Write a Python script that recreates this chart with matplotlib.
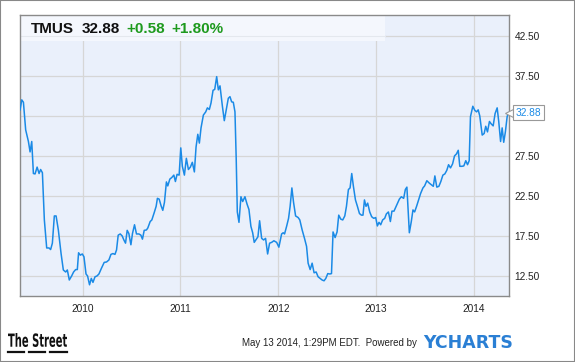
import matplotlib
matplotlib.use("Agg")
import matplotlib.pyplot as plt
import matplotlib.transforms as mtransforms
from matplotlib.patches import Rectangle, PathPatch
from matplotlib.textpath import TextPath
from matplotlib.font_manager import FontProperties

# decimal years
years = [
    2009.361, 2009.378, 2009.395, 2009.418, 2009.446, 2009.463, 2009.480, 2009.497,
    2009.514, 2009.535, 2009.555, 2009.571, 2009.589, 2009.609, 2009.633, 2009.657,
    2009.673, 2009.691, 2009.711, 2009.729, 2009.752, 2009.780, 2009.803, 2009.827,
    2009.844, 2009.864, 2009.888, 2009.908, 2009.929, 2009.946, 2009.959, 2009.977,
    2009.997, 2010.014, 2010.035, 2010.051, 2010.071, 2010.089, 2010.106, 2010.127,
    2010.147, 2010.167, 2010.194, 2010.221, 2010.245, 2010.269, 2010.290, 2010.310,
    2010.331, 2010.347, 2010.364, 2010.385, 2010.405, 2010.422, 2010.439, 2010.456,
    2010.473, 2010.494, 2010.510, 2010.531, 2010.551, 2010.576, 2010.596, 2010.612,
    2010.630, 2010.653, 2010.667, 2010.691, 2010.708, 2010.732, 2010.752, 2010.765,
    2010.783, 2010.803, 2010.820, 2010.837, 2010.857, 2010.871, 2010.892, 2010.912,
    2010.933, 2010.949, 2010.966, 2010.987, 2011.004, 2011.020, 2011.041, 2011.061,
    2011.082, 2011.102, 2011.122, 2011.143, 2011.160, 2011.178, 2011.194, 2011.211,
    2011.235, 2011.259, 2011.276, 2011.296, 2011.313, 2011.334, 2011.351, 2011.371,
    2011.388, 2011.405, 2011.429, 2011.449, 2011.469, 2011.490, 2011.507, 2011.524,
    2011.541, 2011.558, 2011.571, 2011.582, 2011.599, 2011.619, 2011.637, 2011.660,
    2011.681, 2011.701, 2011.721, 2011.739, 2011.755, 2011.776, 2011.793, 2011.810,
    2011.831, 2011.851, 2011.871, 2011.892, 2011.912, 2011.933, 2011.956, 2011.984,
    2012.007, 2012.035, 2012.051, 2012.065, 2012.086, 2012.106, 2012.122, 2012.140,
    2012.157, 2012.178, 2012.204, 2012.221, 2012.245, 2012.269, 2012.290, 2012.306,
    2012.327, 2012.347, 2012.367, 2012.388, 2012.408, 2012.429, 2012.449, 2012.469,
    2012.487, 2012.507, 2012.528, 2012.545, 2012.561, 2012.582, 2012.602, 2012.619,
    2012.640, 2012.660, 2012.681, 2012.698, 2012.718, 2012.735, 2012.752, 2012.769,
    2012.790, 2012.810, 2012.831, 2012.851, 2012.867, 2012.882, 2012.898, 2012.915,
    2012.936, 2012.956, 2012.977, 2012.997, 2013.014, 2013.031, 2013.048, 2013.068,
    2013.089, 2013.106, 2013.127, 2013.147, 2013.163, 2013.184, 2013.208, 2013.239,
    2013.259, 2013.283, 2013.300, 2013.316, 2013.327, 2013.341, 2013.361, 2013.378,
    2013.395, 2013.415, 2013.436, 2013.456, 2013.480, 2013.497, 2013.520, 2013.545,
    2013.565, 2013.586, 2013.602, 2013.622, 2013.643, 2013.663, 2013.684, 2013.704,
    2013.724, 2013.742, 2013.762, 2013.783, 2013.803, 2013.823, 2013.841, 2013.857,
    2013.878, 2013.898, 2013.918, 2013.936, 2013.953, 2013.966, 2013.990, 2014.010,
    2014.028, 2014.045, 2014.061, 2014.086, 2014.106, 2014.122, 2014.140, 2014.160,
    2014.178, 2014.198, 2014.218, 2014.239, 2014.255, 2014.274, 2014.290, 2014.306,
    2014.323, 2014.341, 2014.354,
]

price = [
    33.25, 34.5, 34.2, 30.75, 29.3, 28.0, 29.3, 25.3,
    25.25, 26.1, 25.3, 25.8, 25.4, 19.5, 16.0, 16.0,
    15.8, 16.6, 20.0, 20.0, 18.25, 15.3, 13.25, 13.0,
    13.25, 12.0, 12.5, 13.0, 13.3, 13.3, 15.4, 15.1,
    15.25, 14.9, 12.75, 12.5, 11.4, 12.2, 11.7, 12.4,
    12.5, 12.75, 13.5, 14.2, 14.25, 14.5, 15.2, 15.3,
    15.2, 15.75, 17.6, 17.75, 17.5, 17.0, 16.6, 18.2,
    17.8, 16.4, 17.8, 18.9, 17.75, 17.75, 17.6, 17.1,
    18.2, 18.25, 18.5, 19.3, 19.5, 20.4, 21.2, 22.2,
    22.1, 21.25, 20.7, 21.7, 24.25, 23.75, 24.6, 24.8,
    25.1, 24.3, 25.2, 25.1, 28.5, 26.2, 25.1, 27.2,
    25.8, 26.1, 26.7, 25.5, 28.6, 30.2, 29.1, 31.0,
    32.6, 33.0, 33.5, 33.3, 34.1, 35.7, 35.8, 37.4,
    35.75, 36.25, 33.75, 31.9, 33.3, 34.7, 34.9, 34.25,
    34.2, 33.0, 27.0, 20.5, 19.2, 22.4, 21.8, 22.4,
    21.5, 20.8, 18.7, 17.9, 16.7, 17.1, 17.4, 19.4,
    17.2, 17.0, 17.2, 15.25, 16.6, 16.7, 16.9, 16.7,
    16.1, 17.75, 17.9, 17.75, 18.7, 19.7, 21.2, 23.5,
    21.7, 20.0, 19.8, 19.5, 18.25, 17.2, 16.2, 14.1,
    13.3, 14.1, 12.9, 13.0, 12.4, 12.2, 12.0, 11.9,
    12.2, 12.8, 12.75, 12.8, 18.0, 17.3, 18.0, 20.1,
    19.6, 19.5, 20.0, 21.2, 23.3, 23.5, 25.3, 23.7,
    22.0, 21.2, 20.3, 20.1, 20.1, 22.0, 21.2, 21.6,
    20.5, 19.9, 19.7, 19.8, 18.75, 19.2, 18.9, 19.5,
    19.7, 20.25, 20.5, 19.3, 20.6, 20.6, 21.25, 22.1,
    22.4, 22.2, 23.3, 23.6, 21.2, 17.9, 19.3, 20.75,
    20.5, 21.2, 22.0, 22.8, 23.5, 23.75, 24.4, 24.1,
    23.9, 23.7, 25.0, 23.6, 23.7, 24.3, 25.1, 25.25,
    25.7, 26.4, 26.0, 26.5, 27.5, 27.75, 28.2, 26.2,
    26.2, 26.25, 26.9, 26.4, 26.9, 32.4, 33.7, 33.2,
    33.0, 33.25, 32.5, 30.1, 30.3, 31.2, 30.5, 31.8,
    31.5, 31.25, 32.8, 33.5, 31.8, 29.3, 31.0, 29.2,
    30.5, 32.4, 32.88,
]

year_ticks = [2010, 2011, 2012, 2013, 2014]
price_ticks = [12.5, 17.5, 22.5, 27.5, 32.5, 37.5, 42.5]

W, H = 575, 362
font = "Liberation Sans"
line_blue = "#1a8ae6"

fig = plt.figure(figsize=(W / 100, H / 100), dpi=100)
ax = fig.add_axes([20 / W, 1 - 296 / H, 489 / W, 281 / H])
ax.set_facecolor("#eaf0fb")

ax.plot(years, price, color=line_blue, lw=1.1, zorder=3)

ax.set_xlim(2009.36, 2014.36)
ax.set_ylim(10.0, 45.1)

ax.set_xticks(year_ticks)
ax.set_xticklabels([str(y) for y in year_ticks], fontsize=7.3, family=font, color="#222")
ax.set_yticks(price_ticks)
# 32.50 sits under the last-price box in the reference
ax.set_yticklabels(["" if p == 32.5 else f"{p:.2f}" for p in price_ticks],
                   fontsize=7.3, family=font, color="#222")
ax.yaxis.tick_right()
ax.tick_params(axis="x", length=0, pad=6)
ax.tick_params(axis="y", length=0, pad=4)
ax.grid(True, color="#d6d6d6", lw=0.9, zorder=1)
for s in ax.spines.values():
    s.set_color("#8a8a8a")
    s.set_linewidth(1.0)

# header band
ax.add_patch(Rectangle((0, 1 - 26 / 281), 365 / 489, 26 / 281, transform=ax.transAxes,
                       facecolor="#f4f7fd", edgecolor="none", zorder=2))
ax.plot([0, 365 / 489], [1 - 21 / 281] * 2, transform=ax.transAxes, color="#e4e8ee", lw=0.8, zorder=2)

y_head = 1 - 29 / H
fig.text(31 / W, y_head, "TMUS", fontsize=11, fontweight="bold", family=font, va="center", color="#111")
fig.text(82 / W, y_head, "32.88", fontsize=11, fontweight="bold", family=font, va="center", color="#111")
fig.text(126 / W, y_head, "+0.58", fontsize=11, fontweight="bold", family=font, va="center", color="#1e9a1e")
fig.text(171 / W, y_head, "+1.80%", fontsize=11, fontweight="bold", family=font, va="center", color="#1e9a1e")

# last price label
trans = mtransforms.blended_transform_factory(ax.transAxes, ax.transData)
ax.plot([1.0], [price[-1]], transform=trans, marker="<", ms=6, mfc="white", mec="#999999",
        mew=0.8, clip_on=False, zorder=5)
ax.text(1.013, price[-1], f"{price[-1]:.2f}", transform=trans, fontsize=7.3, family=font,
        color=line_blue, va="center", ha="left", zorder=6,
        bbox=dict(boxstyle="square,pad=0.25", fc="white", ec="#999999", lw=0.8))

# footer: condensed "The Street" logo, squeezed from a bold text path
tp = TextPath((0, 0), "The Street", size=100, prop=FontProperties(family="DejaVu Sans", weight="bold"))
bb = tp.get_extents()
px = mtransforms.Affine2D().scale(1 / W, 1 / H) + fig.transFigure
logo_tr = (mtransforms.Affine2D().translate(-bb.x0, -bb.y0)
           .scale(59 / bb.width, 14 / bb.height).translate(8, H - 347)) + px
fig.add_artist(PathPatch(tp, transform=logo_tr, facecolor="#111", edgecolor="none"))
for x0, x1 in [(8, 24), (29, 45), (50, 67)]:
    fig.add_artist(plt.Line2D([x0 / W, x1 / W], [1 - 352 / H] * 2, color="#111", lw=1.6))

fig.text(417 / W, 1 - 343 / H, "May 13 2014, 1:29PM EDT.  Powered by", fontsize=7.0, family=font,
         va="center", ha="right", color="#222")
fig.text(513 / W, 1 - 342.5 / H, "YCHARTS", fontsize=12.5, fontweight="bold", family="DejaVu Sans",
         va="center", ha="right", color="#2a7fd4")

# outer frame
fig.add_artist(Rectangle((0, 0), 1, 1, transform=fig.transFigure, fill=False,
                         edgecolor="#888888", lw=1.5))

fig.savefig("out.png", dpi=100)
